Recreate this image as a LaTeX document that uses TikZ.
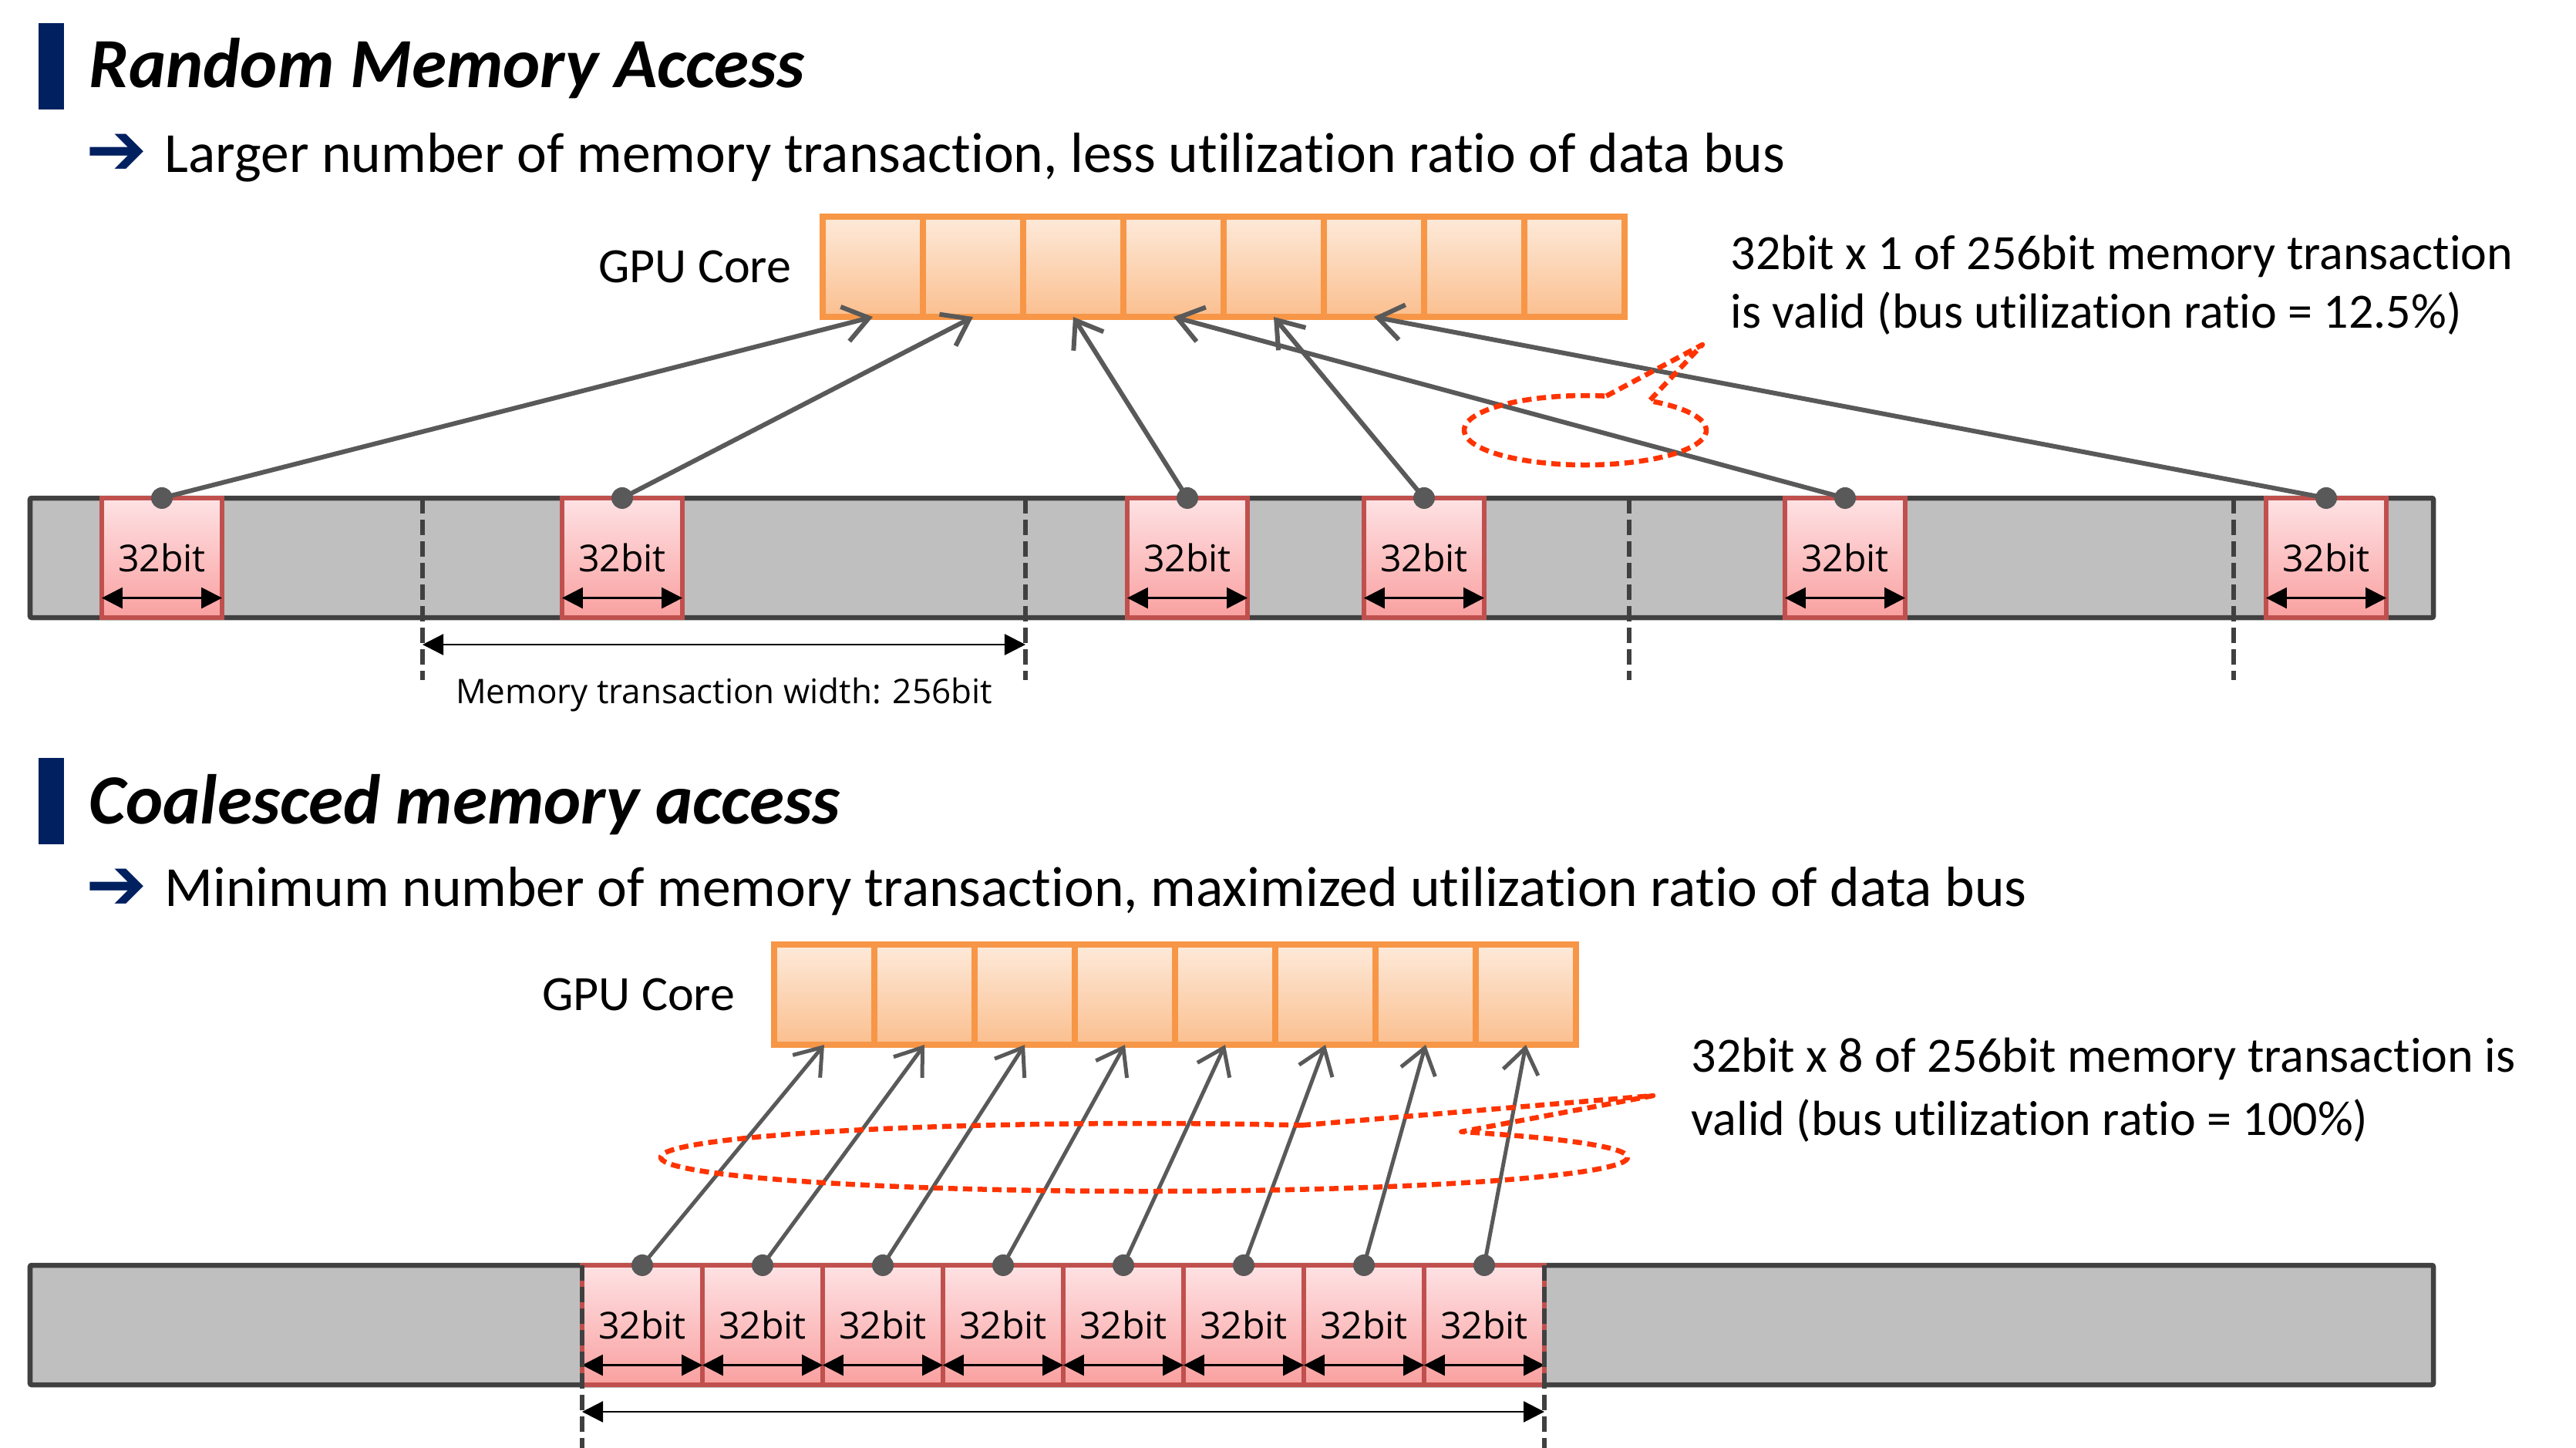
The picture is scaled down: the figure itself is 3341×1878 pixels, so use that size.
\documentclass[tikz,border=0pt]{standalone}
\usepackage{fontspec}
\setmainfont{Carlito}[Ligatures=NoCommon]
\newfontfamily\bitfont{Open Sans}
\newfontfamily\arrowfont{DejaVu Sans}
\usetikzlibrary{arrows.meta,positioning,calc}
\definecolor{navy}{RGB}{0,32,96}
\definecolor{coreedge}{RGB}{247,150,70}
\definecolor{coretop}{RGB}{253,234,218}
\definecolor{corebot}{RGB}{251,191,143}
\definecolor{celledge}{RGB}{192,80,77}
\definecolor{celltop}{RGB}{254,226,228}
\definecolor{cellbot}{RGB}{250,160,160}
\definecolor{bargray}{RGB}{191,191,191}
\definecolor{baredge}{RGB}{64,64,64}
\definecolor{wiregray}{RGB}{89,89,89}
\definecolor{callred}{RGB}{255,51,0}
\begin{document}
\begin{tikzpicture}[x=0.01cm,y=-0.01cm]

    \tikzset{headline/.style = {anchor=base west,inner sep=0,font=\fontsize{26}{31}\selectfont\bfseries\itshape}}
    \tikzset{subline/.style = {anchor=base west,inner sep=0,font=\fontsize{20.9}{25}\selectfont}}
    \tikzset{bullet/.style = {anchor=center,inner sep=0,text=navy,font=\arrowfont\fontsize{27}{30}\selectfont}}
    \tikzset{note/.style = {anchor=base west,inner sep=0,font=\fontsize{18.2}{25}\selectfont}}
    \tikzset{corecell/.style = {draw=coreedge,line width=0.08cm,top color=coretop,bottom color=corebot,minimum width=1.3cm,minimum height=1.3cm,inner sep=0,outer sep=0}}
    \tikzset{bitcell/.style = {draw=celledge,line width=0.06cm,top color=celltop,bottom color=cellbot,minimum width=1.56cm,minimum height=1.55cm,inner sep=0,outer sep=0,font=\bitfont\fontsize{13.7}{16}\selectfont}}
    \tikzset{membar/.style = {draw=baredge,fill=bargray,line width=0.065cm,rounded corners=0.02cm}}
    \tikzset{fetch/.style = {draw=wiregray,line width=0.06cm,-{Straight Barb[length=0.32cm,width=0.46cm]}}}
    \tikzset{bitdot/.style = {fill=wiregray}}
    \tikzset{dimarrow/.style = {{Triangle[length=0.27cm,width=0.27cm]}-{Triangle[length=0.27cm,width=0.27cm]},line width=0.03cm}}
    \tikzset{txline/.style = {draw=baredge,line width=0.06cm,dash pattern=on 0.2cm off 0.08cm}}
    \tikzset{validmark/.style = {draw=callred,line width=0.065cm,dash pattern=on 0.12cm off 0.07cm,line join=round}}

    \useasboundingbox (0,0) rectangle (3341,1878);

    % random access
    \fill[navy] (50,30) rectangle (83,142);
    \node[headline] (head1) at (115,113) {Random Memory Access};
    \node[bullet] (bul1) at (151,200) {➔};
    \node[subline] (sub1) at (213,223) {Larger number of memory transaction, less utilization ratio of data bus};

    \foreach \i in {1,...,8}
        \node[corecell] (ga\i) at (1002+130*\i,346) {};
    \node[note,left=0.4cm of ga1] (core1) {GPU Core};

    \draw[membar] (39,646) rectangle (3156,801);
    \foreach \x [count=\i] in {210,807,1540,1847,2393,3017}
        \node[bitcell] (u\i) at (\x,723.5) {32bit};
    \foreach \i in {1,...,6}
        \draw[dimarrow] ([yshift=-0.52cm]u\i.west) -- ([yshift=-0.52cm]u\i.east);
    \foreach \x in {548,1330,2113,2897}
        \draw[txline] (\x,646) -- (\x,882);
    \coordinate (w1) at (548,836);
    \coordinate (w2) at (1330,836);
    \draw[dimarrow,line width=0.025cm] (w1) -- (w2);
    \node[anchor=base,inner sep=0,font=\bitfont\fontsize{12.5}{15}\selectfont] (wlab) at (939,912) {Memory transaction width: 256bit};

    \foreach \s/\t in {1/1,2/2,3/3,4/5,5/4,6/6}{
        \draw[fetch] (u\s.north) -- (ga\t.south);
        \fill[bitdot] (u\s.north) circle[radius=14];
    }

    \coordinate (hit1) at (2056,558);
    \coordinate (tip1) at (2208,447);
    \draw[validmark] ($(hit1)+(-80:157 and 45)$) -- (tip1) -- ($(hit1)+(-58:157 and 45)$)
        arc[start angle=-58,end angle=280,x radius=157,y radius=45] -- cycle;
    \node[note] (val1a) at (2244,349) {32bit x 1 of 256bit memory transaction};
    \node[note] (val1b) at (2244,425) {is valid (bus utilization ratio = 12.5\%)};

    % coalesced access
    \fill[navy] (50,983) rectangle (83,1095);
    \node[headline] (head2) at (115,1068) {Coalesced memory access};
    \node[bullet] (bul2) at (151,1153) {➔};
    \node[subline] (sub2) at (213,1175) {Minimum number of memory transaction, maximized utilization ratio of data bus};

    \foreach \i in {1,...,8}
        \node[corecell] (gb\i) at (939+130*\i,1290) {};
    \node[note,left=0.5cm of gb1] (core2) {GPU Core};

    \draw[membar] (39,1641) rectangle (3156,1796);
    \foreach \i in {1,...,8}
        \node[bitcell] (l\i) at (677+156*\i,1718.5) {32bit};
    \foreach \i in {1,...,8}
        \draw[dimarrow] ([yshift=-0.52cm]l\i.west) -- ([yshift=-0.52cm]l\i.east);
    \foreach \x in {755,2003}
        \draw[txline] (\x,1641) -- (\x,1890);
    \coordinate (w3) at (755,1831);
    \coordinate (w4) at (2003,1831);
    \draw[dimarrow,line width=0.025cm] (w3) -- (w4);

    \foreach \i in {1,...,8}{
        \draw[fetch,line width=0.05cm] (l\i.north) -- (gb\i.south);
        \fill[bitdot] (l\i.north) circle[radius=14];
    }

    \coordinate (hit2) at (1484,1501);
    \coordinate (tip2) at (2144,1421);
    \draw[validmark] ($(hit2)+(-71:627 and 44)$) -- (tip2) -- ($(hit2)+(-49:627 and 44)$)
        arc[start angle=-49,end angle=289,x radius=627,y radius=44] -- cycle;
    \node[note] (val2a) at (2193,1390) {32bit x 8 of 256bit memory transaction is};
    \node[note] (val2b) at (2193,1472) {valid (bus utilization ratio = 100\%)};

\end{tikzpicture}
\end{document}
